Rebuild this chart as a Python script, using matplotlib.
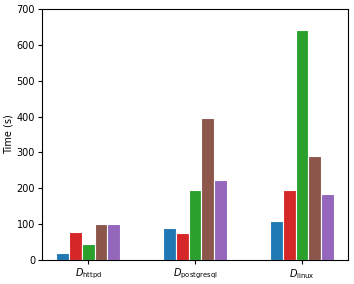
import numpy as np
import matplotlib.pyplot as plt

datasets = [r'$D_{\mathrm{httpd}}$', r'$D_{\mathrm{postgresql}}$', r'$D_{\mathrm{linux}}$']
colors = ['tab:blue', 'tab:red', 'tab:green', 'tab:brown', 'tab:purple']
# one list per method, values for httpd, postgresql, linux
m1 = [20, 90, 109]
m2 = [77, 76, 195]
m3 = [43, 195, 643]
m4 = [100, 395, 291]
m5 = [100, 224, 183]
times = [m1, m2, m3, m4, m5]

fig, ax = plt.subplots(figsize=(3.54, 2.84), dpi=100)
x = np.arange(len(datasets))
w = 0.12
for i, (vals, c) in enumerate(zip(times, colors)):
    ax.bar(x + (i - 2) * w, vals, w, color=c, edgecolor='white', linewidth=0.8)

ax.set_xticks(x)
ax.set_xticklabels(datasets, fontsize=7)
ax.tick_params(axis='both', labelsize=7, length=3, pad=2)
ax.set_ylabel('Time (s)', fontsize=7, labelpad=2)
ax.set_ylim(0, 700)
fig.subplots_adjust(left=0.119, right=0.983, top=0.968, bottom=0.085)
fig.savefig('out.png')
